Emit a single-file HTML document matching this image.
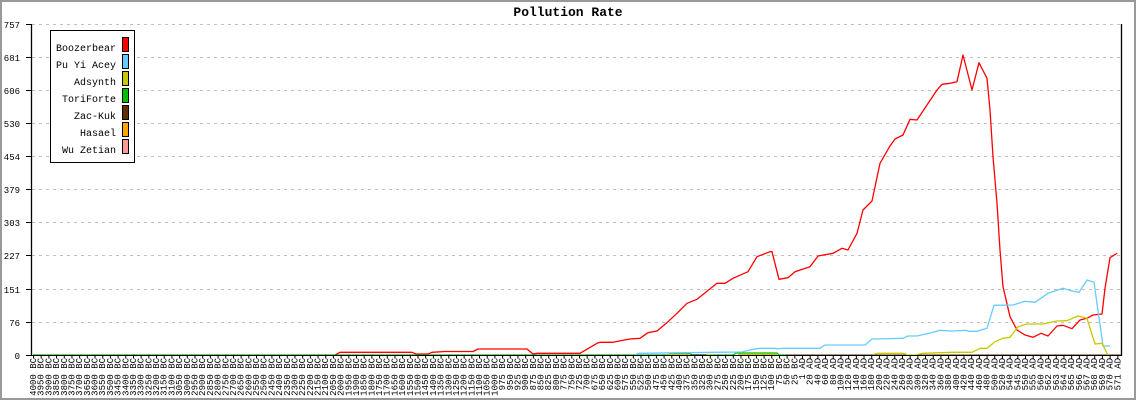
<!DOCTYPE html>
<html><head><meta charset="utf-8"><style>
html,body{margin:0;padding:0;background:#fff}
svg{display:block}
text{font-family:"Liberation Mono","DejaVu Sans Mono",monospace}
</style></head><body>
<svg width="1136" height="400" viewBox="0 0 1136 400" xmlns="http://www.w3.org/2000/svg">
<rect x="0" y="0" width="1136" height="400" fill="#fff"/>
<rect x="1" y="1" width="1134" height="398" fill="none" stroke="#999" stroke-width="2"/>
<text x="568" y="16" text-anchor="middle" font-size="13" font-weight="bold">Pollution Rate</text>
<g stroke="#c0c0c0" stroke-width="1" stroke-dasharray="3,4">
<line x1="32" y1="24.5" x2="1121" y2="24.5"/>
<line x1="32" y1="57.5" x2="1121" y2="57.5"/>
<line x1="32" y1="90.5" x2="1121" y2="90.5"/>
<line x1="32" y1="123.5" x2="1121" y2="123.5"/>
<line x1="32" y1="156.5" x2="1121" y2="156.5"/>
<line x1="32" y1="189.5" x2="1121" y2="189.5"/>
<line x1="32" y1="222.5" x2="1121" y2="222.5"/>
<line x1="32" y1="255.5" x2="1121" y2="255.5"/>
<line x1="32" y1="289.5" x2="1121" y2="289.5"/>
<line x1="32" y1="322.5" x2="1121" y2="322.5"/>
</g>
<g font-size="9" text-anchor="end">
<text x="20" y="28">757</text><text x="20" y="61">681</text><text x="20" y="94">606</text><text x="20" y="127">530</text><text x="20" y="160">454</text><text x="20" y="193">379</text><text x="20" y="226">303</text><text x="20" y="259">227</text><text x="20" y="293">151</text><text x="20" y="326">76</text><text x="20" y="359">0</text>
</g>
<g stroke="#000" stroke-width="1">
<line x1="26" y1="24.5" x2="31" y2="24.5"/><line x1="26" y1="57.5" x2="31" y2="57.5"/><line x1="26" y1="90.5" x2="31" y2="90.5"/><line x1="26" y1="123.5" x2="31" y2="123.5"/><line x1="26" y1="156.5" x2="31" y2="156.5"/><line x1="26" y1="189.5" x2="31" y2="189.5"/><line x1="26" y1="222.5" x2="31" y2="222.5"/><line x1="26" y1="255.5" x2="31" y2="255.5"/><line x1="26" y1="289.5" x2="31" y2="289.5"/><line x1="26" y1="322.5" x2="31" y2="322.5"/><line x1="26" y1="355.5" x2="31" y2="355.5"/>
</g>
<line x1="33" y1="357" x2="1121" y2="357" stroke="#000" stroke-width="3" stroke-dasharray="1,6.69"/>
<g fill="none" stroke-width="1.3" stroke-linejoin="round">
<polyline stroke="#ff0000" points="335,355 340,352.3 412,352.3 416,354 428,354 432,352.3 445,351.5 473,351.5 478,349 527,349 533,354 537,353.3 580,353.3 597,343.3 600,342.3 613,342.3 623,340.3 630,339 640,338.3 648,332.7 657,331 668,321.7 677,313.3 687,303.3 697,299.3 717,283.3 725,283.3 733,278.3 748,271.7 757,256.7 770,251.7 772,251.7 779,279.3 788,277.7 795,271.7 810,266.7 818,256 833,253.3 842,248.3 848,250 857,233.3 863,210 872,201 880,163.3 890,146 895,139 903,135 910,119.3 917,120 937,90 942,84.3 950,83.3 957,81.7 963,55 972,90 979,62.7 987,78.3 990,110 993,156.7 997,203.3 1000,250 1003,286.7 1010,316.7 1017,330 1025,335 1033,337.3 1041,333.3 1048,336 1057,326 1063,325.3 1072,328.7 1080,320 1087,318.3 1093,315 1102,314 1105,288.3 1110,257.7 1117,253.3"/>
<polyline stroke="#00c000" points="33,355 668,355 670,353.7 690,353.7 692,355 733,355 736,353 777,353 779,355 787,355"/>
<polyline stroke="#c8c800" points="668,354.5 690,354.5"/>
<polyline stroke="#000" points="691,355.2 706,355.2"/>
<polyline stroke="#c8c800" points="706,354.5 713,354.5"/>
<polyline stroke="#c8c800" points="738,354.3 777,354.3"/>
<polyline stroke="#603000" points="787,355.2 1121,355.2"/>
<polyline stroke="#66ccff" points="635,354.7 639,353.3 713,352.3 742,352 753,349.3 760,348.3 775,348.3 777,349 783,348.3 820,348.3 825,345 865,345 872,339 903,338.3 908,336 917,336 933,332.3 940,330.3 952,331 967,330.3 968,331.3 977,331.3 987,328.3 994,305.3 1013,305 1025,301.3 1035,302.3 1048,293.3 1063,288.3 1072,291 1079,292.3 1087,280 1094,282.3 1103,346 1110,346"/>
<polyline stroke="#c8c800" points="873,354.5 878,353.3 903,353.3 908,355 915,355 923,353.3 952,352.3 972,352.3 980,348.3 987,348.3 995,341.7 1003,338.3 1010,337.3 1018,326.7 1027,324 1043,324 1057,321 1067,320.7 1078,316 1087,318.3 1095,344 1102,343.3 1108,355"/>
</g>
<line x1="31.5" y1="24" x2="31.5" y2="356" stroke="#000" stroke-width="1.3"/>
<line x1="31" y1="355.5" x2="1122" y2="355.5" stroke="#000" stroke-width="1"/>
<line x1="1121.5" y1="24" x2="1121.5" y2="356" stroke="#000" stroke-width="1.3"/>
<rect x="50.5" y="30.5" width="84" height="132" fill="#fff" stroke="#000"/>
<g font-size="10" text-anchor="end">
<text x="116" y="51">Boozerbear</text><text x="116" y="68">Pu Yi Acey</text><text x="116" y="85">Adsynth</text><text x="116" y="102">ToriForte</text><text x="116" y="119">Zac-Kuk</text><text x="116" y="136">Hasael</text><text x="116" y="153">Wu Zetian</text>
</g>
<g stroke="#000" stroke-width="1">
<rect x="122.5" y="37.5" width="6" height="14" fill="#ff0000"/>
<rect x="122.5" y="54.5" width="6" height="14" fill="#66ccff"/>
<rect x="122.5" y="71.5" width="6" height="14" fill="#c8c800"/>
<rect x="122.5" y="88.5" width="6" height="14" fill="#00c000"/>
<rect x="122.5" y="105.5" width="6" height="14" fill="#603000"/>
<rect x="122.5" y="122.5" width="6" height="14" fill="#ffa500"/>
<rect x="122.5" y="139.5" width="6" height="14" fill="#ff9999"/>
</g>
<g transform="rotate(-90)" font-size="9" text-anchor="end">
<text x="-358" y="36.0">4000 BC</text><text x="-358" y="43.7">3950 BC</text><text x="-358" y="51.4">3900 BC</text><text x="-358" y="59.1">3850 BC</text><text x="-358" y="66.8">3800 BC</text><text x="-358" y="74.5">3750 BC</text><text x="-358" y="82.1">3700 BC</text><text x="-358" y="89.8">3650 BC</text><text x="-358" y="97.5">3600 BC</text><text x="-358" y="105.2">3550 BC</text><text x="-358" y="112.9">3500 BC</text><text x="-358" y="120.6">3450 BC</text><text x="-358" y="128.3">3400 BC</text><text x="-358" y="136.0">3350 BC</text><text x="-358" y="143.7">3300 BC</text><text x="-358" y="151.4">3250 BC</text><text x="-358" y="159.0">3200 BC</text><text x="-358" y="166.7">3150 BC</text><text x="-358" y="174.4">3100 BC</text><text x="-358" y="182.1">3050 BC</text><text x="-358" y="189.8">3000 BC</text><text x="-358" y="197.5">2950 BC</text><text x="-358" y="205.2">2900 BC</text><text x="-358" y="212.9">2850 BC</text><text x="-358" y="220.6">2800 BC</text><text x="-358" y="228.3">2750 BC</text><text x="-358" y="235.9">2700 BC</text><text x="-358" y="243.6">2650 BC</text><text x="-358" y="251.3">2600 BC</text><text x="-358" y="259.0">2550 BC</text><text x="-358" y="266.7">2500 BC</text><text x="-358" y="274.4">2450 BC</text><text x="-358" y="282.1">2400 BC</text><text x="-358" y="289.8">2350 BC</text><text x="-358" y="297.5">2300 BC</text><text x="-358" y="305.2">2250 BC</text><text x="-358" y="312.8">2200 BC</text><text x="-358" y="320.5">2150 BC</text><text x="-358" y="328.2">2100 BC</text><text x="-358" y="335.9">2050 BC</text><text x="-358" y="343.6">2000 BC</text><text x="-358" y="351.3">1950 BC</text><text x="-358" y="359.0">1900 BC</text><text x="-358" y="366.7">1850 BC</text><text x="-358" y="374.4">1800 BC</text><text x="-358" y="382.1">1750 BC</text><text x="-358" y="389.7">1700 BC</text><text x="-358" y="397.4">1650 BC</text><text x="-358" y="405.1">1600 BC</text><text x="-358" y="412.8">1550 BC</text><text x="-358" y="420.5">1500 BC</text><text x="-358" y="428.2">1450 BC</text><text x="-358" y="435.9">1400 BC</text><text x="-358" y="443.6">1350 BC</text><text x="-358" y="451.3">1300 BC</text><text x="-358" y="459.0">1250 BC</text><text x="-358" y="466.6">1200 BC</text><text x="-358" y="474.3">1150 BC</text><text x="-358" y="482.0">1100 BC</text><text x="-358" y="489.7">1050 BC</text><text x="-358" y="497.4">1000 BC</text>
<text x="-358" y="505.1">975 BC</text><text x="-358" y="512.8">950 BC</text><text x="-358" y="520.5">925 BC</text><text x="-358" y="528.2">900 BC</text><text x="-358" y="535.9">875 BC</text><text x="-358" y="543.5">850 BC</text><text x="-358" y="551.2">825 BC</text><text x="-358" y="558.9">800 BC</text><text x="-358" y="566.6">775 BC</text><text x="-358" y="574.3">750 BC</text><text x="-358" y="582.0">725 BC</text><text x="-358" y="589.7">700 BC</text><text x="-358" y="597.4">675 BC</text><text x="-358" y="605.1">650 BC</text><text x="-358" y="612.8">625 BC</text><text x="-358" y="620.4">600 BC</text><text x="-358" y="628.1">575 BC</text><text x="-358" y="635.8">550 BC</text><text x="-358" y="643.5">525 BC</text><text x="-358" y="651.2">500 BC</text><text x="-358" y="658.9">475 BC</text><text x="-358" y="666.6">450 BC</text><text x="-358" y="674.3">425 BC</text><text x="-358" y="682.0">400 BC</text><text x="-358" y="689.7">375 BC</text><text x="-358" y="697.3">350 BC</text><text x="-358" y="705.0">325 BC</text><text x="-358" y="712.7">300 BC</text><text x="-358" y="720.4">275 BC</text><text x="-358" y="728.1">250 BC</text><text x="-358" y="735.8">225 BC</text><text x="-358" y="743.5">200 BC</text><text x="-358" y="751.2">175 BC</text><text x="-358" y="758.9">150 BC</text><text x="-358" y="766.6">125 BC</text><text x="-358" y="774.2">100 BC</text><text x="-358" y="781.9">75 BC</text><text x="-358" y="789.6">50 BC</text><text x="-358" y="797.3">25 BC</text>
<text x="-358" y="805.0">1 AD</text><text x="-358" y="812.7">20 AD</text><text x="-358" y="820.4">40 AD</text><text x="-358" y="828.1">60 AD</text><text x="-358" y="835.8">80 AD</text><text x="-358" y="843.5">100 AD</text><text x="-358" y="851.1">120 AD</text><text x="-358" y="858.8">140 AD</text><text x="-358" y="866.5">160 AD</text><text x="-358" y="874.2">180 AD</text><text x="-358" y="881.9">200 AD</text><text x="-358" y="889.6">220 AD</text><text x="-358" y="897.3">240 AD</text><text x="-358" y="905.0">260 AD</text><text x="-358" y="912.7">280 AD</text><text x="-358" y="920.4">300 AD</text><text x="-358" y="928.0">320 AD</text><text x="-358" y="935.7">340 AD</text><text x="-358" y="943.4">360 AD</text><text x="-358" y="951.1">380 AD</text><text x="-358" y="958.8">400 AD</text><text x="-358" y="966.5">420 AD</text><text x="-358" y="974.2">440 AD</text><text x="-358" y="981.9">460 AD</text><text x="-358" y="989.6">480 AD</text><text x="-358" y="997.3">500 AD</text><text x="-358" y="1004.9">520 AD</text><text x="-358" y="1012.6">540 AD</text><text x="-358" y="1020.3">545 AD</text><text x="-358" y="1028.0">550 AD</text><text x="-358" y="1035.7">555 AD</text><text x="-358" y="1043.4">560 AD</text><text x="-358" y="1051.1">562 AD</text><text x="-358" y="1058.8">563 AD</text><text x="-358" y="1066.5">564 AD</text><text x="-358" y="1074.2">565 AD</text><text x="-358" y="1081.8">566 AD</text><text x="-358" y="1089.5">567 AD</text><text x="-358" y="1097.2">568 AD</text><text x="-358" y="1104.9">569 AD</text><text x="-358" y="1112.6">570 AD</text><text x="-358" y="1120.3">571 AD</text>
</g>
</svg>
</body></html>
